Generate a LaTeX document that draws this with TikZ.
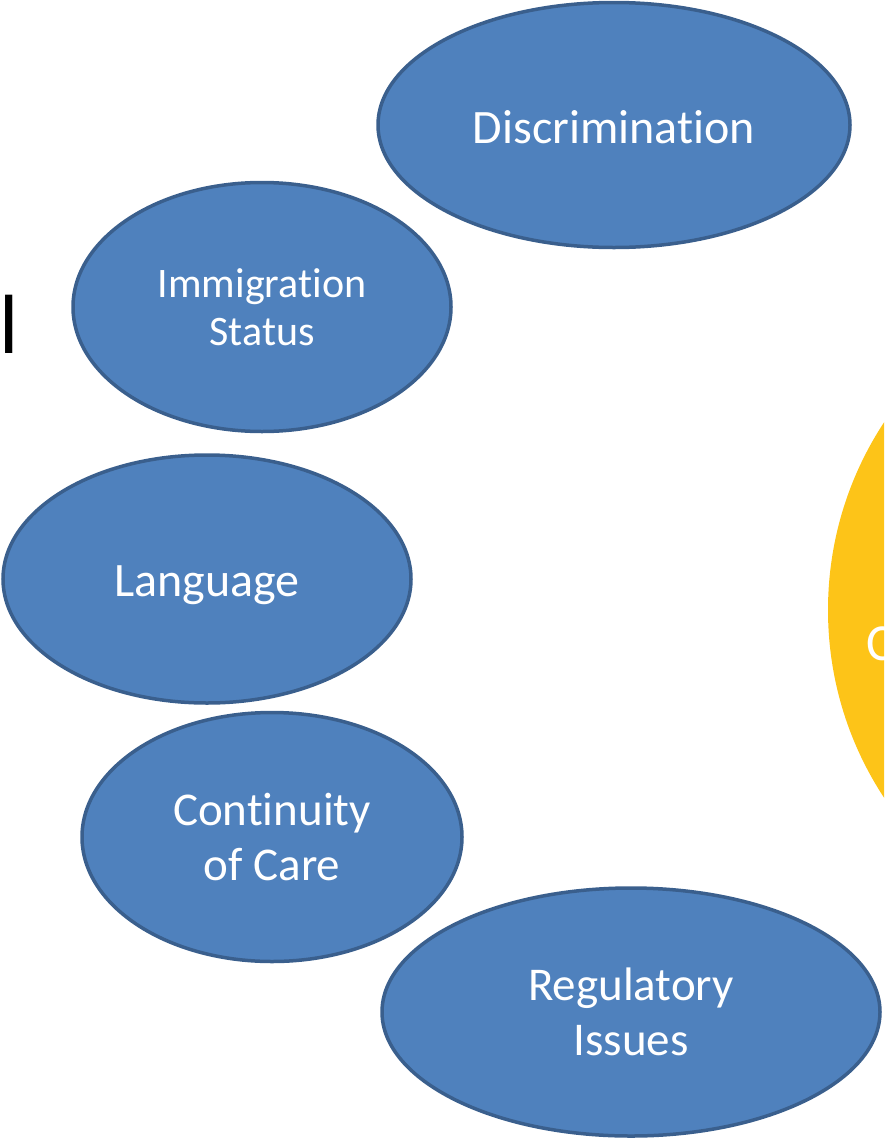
\documentclass[tikz,border=0pt]{standalone}
\usepackage{fontspec}
\setmainfont{Carlito}[Ligatures={NoCommon}]
\usetikzlibrary{shapes.geometric}
\definecolor{bfill}{HTML}{4F81BD}
\definecolor{bline}{HTML}{3A5F8D}
\definecolor{yfill}{HTML}{FDC418}
\tikzset{
  blob/.style={ellipse, fill=bfill, draw=bline, line width=3.5pt, inner sep=0pt,
    text=white, align=center},
}
\newcommand{\lowered}[2]{\raisebox{-#1}[\height][\depth]{#2}}
\begin{document}
\begin{tikzpicture}[x=1pt,y=-1pt]
\useasboundingbox (0,0) rectangle (884,1138);
\clip (0,0) rectangle (884,1138);
\fill[yfill] (1170,610) circle (342);
\node[text=white, anchor=base west, inner sep=0pt, font=\fontsize{52}{60}\selectfont] (cut) at (866,660) {C};
\node[anchor=base west, inner sep=0pt, font=\fontsize{84}{90}\selectfont] (lbar) at (-1,353) {l};
\node[blob, minimum width=472pt, minimum height=245pt, font=\fontsize{48}{59}\selectfont] (disc) at (614,125) {\lowered{2pt}{Discrimination}};
\node[blob, minimum width=378pt, minimum height=249pt, font=\fontsize{42}{48}\selectfont] (imm) at (262,307) {Immigration\\Status};
\node[blob, minimum width=408pt, minimum height=248pt, font=\fontsize{48}{54}\selectfont] (lang) at (207,579) {\lowered{6pt}{Language}};
\node[blob, minimum width=380pt, minimum height=249pt, font=\fontsize{47}{55}\selectfont] (cont) at (272,837) {Continuity\\of Care};
\node[blob, minimum width=498pt, minimum height=248pt, font=\fontsize{47}{55}\selectfont] (reg) at (631,1012) {Regulatory\\Issues};
\end{tikzpicture}
\end{document}
